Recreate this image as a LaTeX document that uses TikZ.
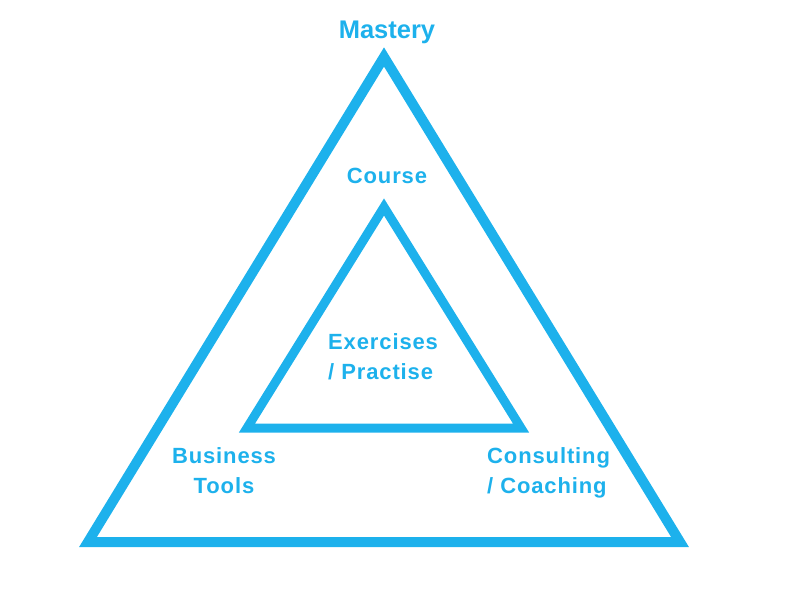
\documentclass[tikz,border=0pt]{standalone}
\usepackage{fontspec}
\setmainfont{Liberation Sans}
\definecolor{tblue}{RGB}{29,177,236}
\tikzset{
  tri/.style={draw=tblue, line join=miter},
  lbl/.style={text=tblue, font=\bfseries\fontsize{22}{30}\selectfont\addfontfeature{LetterSpace=4}, inner sep=0pt},
  biglbl/.style={text=tblue, font=\bfseries\fontsize{25.5}{30}\selectfont, inner sep=0pt}
}
\begin{document}
\begin{tikzpicture}[x=1pt,y=-1pt]
\useasboundingbox (0,0) rectangle (788,596);
% outer triangle
\coordinate (oa) at (384,57);
\coordinate (ol) at (88,542);
\coordinate (or) at (680,542);
\draw[tri, line width=10pt] (oa) -- (or) -- (ol) -- cycle;
% inner triangle
\coordinate (ia) at (384,207);
\coordinate (il) at (247,428);
\coordinate (ir) at (521,428);
\draw[tri, line width=9pt] (ia) -- (ir) -- (il) -- cycle;
% labels
\node[biglbl, anchor=base] (mastery) at (387,39) {Mastery};
\node[lbl, anchor=base] (course) at (387,184) {Course};
\node[lbl, anchor=base west, align=left] (ex) at (328,379) {Exercises\\/ Practise};
\node[lbl, anchor=base, align=center] (bt) at (224,493) {Business\\Tools};
\node[lbl, anchor=base west, align=left] (cc) at (487,493) {Consulting\\/ Coaching};
\end{tikzpicture}
\end{document}
